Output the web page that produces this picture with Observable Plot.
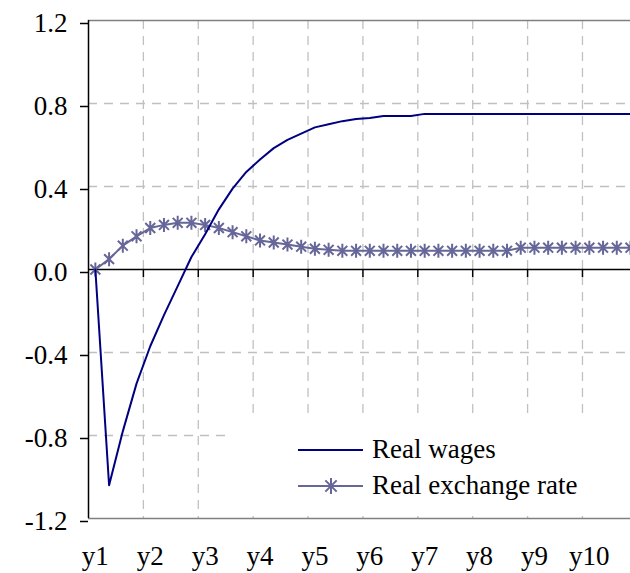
<!DOCTYPE html>
<html>
<head>
<meta charset="utf-8">
<script src="https://cdn.jsdelivr.net/npm/d3@7"></script>
<script src="https://cdn.jsdelivr.net/npm/@observablehq/plot@0.6"></script>
<style>
  html, body { margin: 0; padding: 0; background: #fff; overflow: hidden; }
  #chart { position: relative; width: 630px; height: 573px; font-family: "Liberation Serif", "Times New Roman", serif; }
  #chart svg text { font-family: "Liberation Serif", "Times New Roman", serif; }
  #legend { position: absolute; left: 229px; top: 417px; width: 401px; height: 95px; background: #fff; }
  #legend svg { display: block; }
</style>
</head>
<body>
<div id="chart"><div id="legend"></div></div>
<script>
// Year labels; the series are quarterly, four observations per year
const years = ["y1", "y2", "y3", "y4", "y5", "y6", "y7", "y8", "y9", "y10"];
const quartersPerYear = 4;

// Responses, deviation from baseline
const realWages = [
  0.00, -1.04, -0.78, -0.55, -0.37, -0.22, -0.08, 0.06, 0.17, 0.29,
  0.39, 0.47, 0.53, 0.585, 0.625, 0.655, 0.685, 0.70, 0.715, 0.725,
  0.73, 0.74, 0.74, 0.74, 0.75, 0.75, 0.75, 0.75, 0.75, 0.75,
  0.75, 0.75, 0.75, 0.75, 0.75, 0.75, 0.75, 0.75, 0.75, 0.75
];
const realExchangeRate = [
  0.00, 0.05, 0.115, 0.16, 0.20, 0.215, 0.225, 0.225, 0.215, 0.20,
  0.18, 0.16, 0.14, 0.13, 0.12, 0.11, 0.10, 0.095, 0.09, 0.09,
  0.09, 0.09, 0.09, 0.09, 0.09, 0.09, 0.09, 0.09, 0.09, 0.09,
  0.09, 0.105, 0.105, 0.105, 0.105, 0.105, 0.105, 0.105, 0.105, 0.105
];

const seriesNames = ["Real wages", "Real exchange rate"];
const seriesColors = ["#000080", "#666699"];
const yTicks = [-1.2, -0.8, -0.4, 0, 0.4, 0.8, 1.2];

const quarters = d3.range(realWages.length);
const wagesData = quarters.map(i => ({q: i, v: realWages[i]}));
const rateData = quarters.map(i => ({q: i, v: realExchangeRate[i]}));

// Category axis: each quarter is a slot, points sit at slot centres
const xDomain = [-0.5, realWages.length - 1];
const labelPositions = years.map((_, k) => k * quartersPerYear);
const yearBoundaries = d3.range(1, years.length).map(k => k * quartersPerYear - 0.5);

// Asterisk-style marker: vertical stroke plus a diagonal cross
const starSymbol = {
  draw(context, size) {
    const r = Math.sqrt(size / Math.PI);
    const d = r * Math.SQRT1_2;
    context.moveTo(0, -r); context.lineTo(0, r);
    context.moveTo(-d, -d); context.lineTo(d, d);
    context.moveTo(-d, d); context.lineTo(d, -d);
  }
};

const font = '"Liberation Serif", "Times New Roman", serif';
const fontSize = 27;
const grid = "#c0c0c0";

const chart = Plot.plot({
  width: 630,
  height: 573,
  marginLeft: 88,
  marginRight: 0,
  marginTop: 20,
  marginBottom: 55,
  style: {fontFamily: font, fontSize: `${fontSize}px`, background: "white", color: "black"},
  x: {domain: xDomain, label: null},
  y: {domain: [yTicks[0], yTicks[yTicks.length - 1]], label: null},
  marks: [
    // dashed grid
    Plot.ruleX(yearBoundaries, {stroke: grid, strokeWidth: 1.3, strokeDasharray: "9,7"}),
    Plot.ruleY(yTicks.filter(v => v !== 0 && Math.abs(v) < 1.2), {stroke: grid, strokeWidth: 1.3, strokeDasharray: "9,7"}),
    // top and bottom border of the plot area
    Plot.ruleY([yTicks[0], yTicks[yTicks.length - 1]], {stroke: "#808080", strokeWidth: 1.5}),
    // zero line with year tick marks hanging below it
    Plot.ruleY([0], {stroke: "black", strokeWidth: 1.5}),
    Plot.ruleX(yearBoundaries, {y1: 0, y2: 0, insetBottom: -8, stroke: "black", strokeWidth: 1.5}),
    // vertical axis line
    Plot.ruleX([xDomain[0]], {stroke: "black", strokeWidth: 1.5}),
    Plot.axisY(yTicks, {
      label: null, tickSize: 8, tickPadding: 13, stroke: "black", strokeWidth: 1.5,
      tickFormat: d => d.toFixed(1), dy: 3, fill: "black", fontSize
    }),
    Plot.axisX(labelPositions, {
      label: null, anchor: "bottom", tickSize: 0, tickPadding: 27,
      tickFormat: d => years[d / quartersPerYear], fill: "black", fontSize
    }),
    // series
    Plot.line(rateData, {x: "q", y: "v", stroke: seriesColors[1], strokeWidth: 2}),
    Plot.dot(rateData, {x: "q", y: "v", symbol: starSymbol, r: 7, fill: "none", stroke: seriesColors[1], strokeWidth: 2}),
    Plot.line(wagesData, {x: "q", y: "v", stroke: seriesColors[0], strokeWidth: 2})
  ]
});
const holder = document.getElementById("chart");
holder.insertBefore(chart, holder.firstChild);

// Legend box inside the plot area
const lg = d3.select("#legend").append("svg").attr("width", 401).attr("height", 95)
  .style("font-family", font).style("font-size", `${fontSize}px`);
const rows = [{y: 33, base: 41}, {y: 69, base: 77}];
seriesNames.forEach((name, k) => {
  lg.append("line").attr("x1", 69).attr("x2", 134).attr("y1", rows[k].y).attr("y2", rows[k].y)
    .attr("stroke", seriesColors[k]).attr("stroke-width", 2);
  lg.append("text").attr("x", 143).attr("y", rows[k].base).attr("fill", "black").text(name);
});
lg.append("path")
  .attr("transform", `translate(102,${rows[1].y})`)
  .attr("d", d3.symbol(starSymbol, Math.PI * 8 * 8)())
  .attr("fill", "none").attr("stroke", seriesColors[1]).attr("stroke-width", 2);
</script>
</body>
</html>
